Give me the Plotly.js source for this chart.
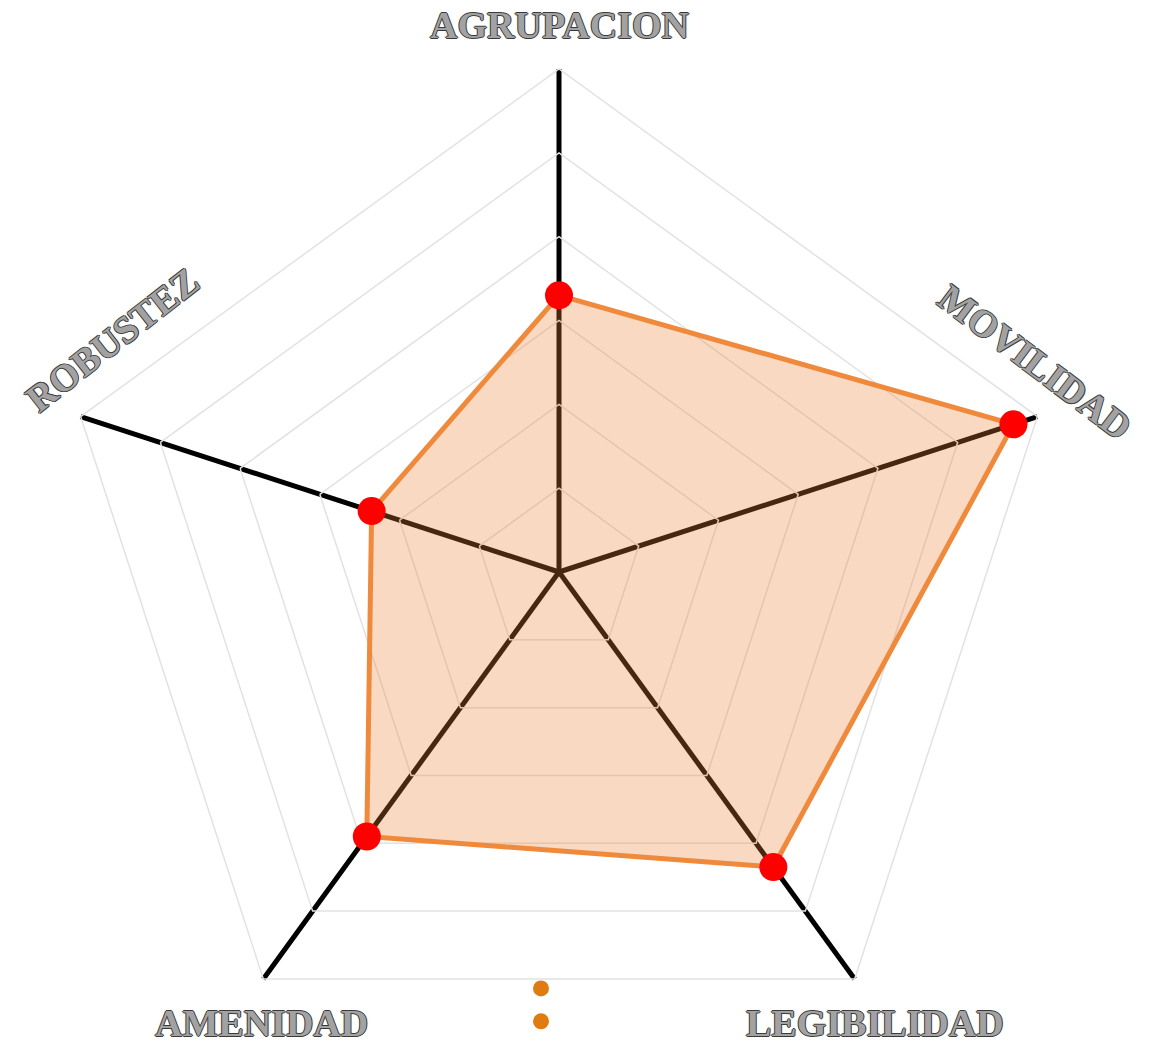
<!DOCTYPE html>
<html>
<head>
<meta charset="utf-8">
<script src="https://cdn.plot.ly/plotly-3.0.1.min.js"></script>
<style>
  html, body { margin: 0; padding: 0; overflow: hidden; background: #fff; }
</style>
</head>
<body>
<div id="plot1"></div>
<script>
// categories of the radar, clockwise from the top
var categories = ["AGRUPACION", "MOVILIDAD", "LEGIBILIDAD", "AMENIDAD", "ROBUSTEZ"];
// scores on a 0-6 scale (6 grid rings)
var scores = [3.3, 5.7, 4.35, 3.9, 2.35];
// the two unnamed legend entries under the chart
var legendNames = ["\u00a0", "\u00a0"];

// label placement (pixels) and rotation for each category
var labelX = [559, 1035, 875, 261, 112];
var labelY = [25, 362, 1023, 1023, 340];
var labelAngle = [0, 37, 0, 0, -38];

var W = 1152, H = 1100;
var M = {l: 56, r: 90, t: 69, b: 25};
var plotW = W - M.l - M.r, plotH = H - M.t - M.b;

// close the polygon
var theta = categories.concat([categories[0]]);
var r = scores.concat([scores[0]]);

var traces = [];
traces.push({
    type: "scatterpolar",
    r: r,
    theta: theta,
    mode: "lines",
    fill: "toself",
    fillcolor: "rgba(240,128,52,0.3)",
    line: {color: "#EF8A3C", width: 5},
    showlegend: false,
    hoverinfo: "skip"
});
traces.push({
    type: "scatterpolar",
    r: scores,
    theta: categories,
    mode: "markers",
    marker: {color: "#FF0000", size: 28},
    showlegend: false
});
legendNames.forEach(name => {
    traces.push({
        type: "scatterpolar",
        r: [null],
        theta: [categories[0]],
        mode: "markers",
        name: name,
        marker: {color: "#E07B10", size: 17},
        showlegend: true
    });
});

var annotations = categories.map((c, i) => ({
    text: c,
    xref: "paper",
    yref: "paper",
    x: (labelX[i] - M.l) / plotW,
    y: (H - M.b - labelY[i]) / plotH,
    xanchor: "center",
    yanchor: "middle",
    showarrow: false,
    textangle: labelAngle[i],
    font: {
        family: "Liberation Serif, DejaVu Serif, serif",
        size: 38,
        weight: 700,
        color: "#a2a2a2",
        shadow: "1px 0 0 #3a3a3a, -1px 0 0 #3a3a3a, 0 1px 0 #3a3a3a, 0 -1px 0 #3a3a3a"
    }
}));

var layout = {
    width: W,
    height: H,
    margin: M,
    paper_bgcolor: "#fff",
    showlegend: true,
    legend: {
        x: (521 - M.l) / plotW,
        y: (H - M.b - 967) / plotH,
        xanchor: "left",
        yanchor: "top",
        bgcolor: "rgba(0,0,0,0)",
        font: {size: 23},
        tracegroupgap: 0
    },
    polar: {
        bgcolor: "#fff",
        gridshape: "linear",
        domain: {x: [0, 1], y: [0, 1]},
        radialaxis: {
            range: [0, 6],
            dtick: 1,
            showticklabels: false,
            ticks: "",
            showline: false,
            gridcolor: "#e2e2e2",
            gridwidth: 1.5
        },
        angularaxis: {
            type: "category",
            categoryarray: categories,
            rotation: 90,
            direction: "clockwise",
            showticklabels: false,
            ticks: "",
            showline: true,
            linecolor: "#e2e2e2",
            linewidth: 1.5,
            gridcolor: "#000000",
            gridwidth: 5
        }
    },
    annotations: annotations
};

Plotly.newPlot("plot1", traces, layout, {displayModeBar: false, staticPlot: true});
</script>
</body>
</html>
